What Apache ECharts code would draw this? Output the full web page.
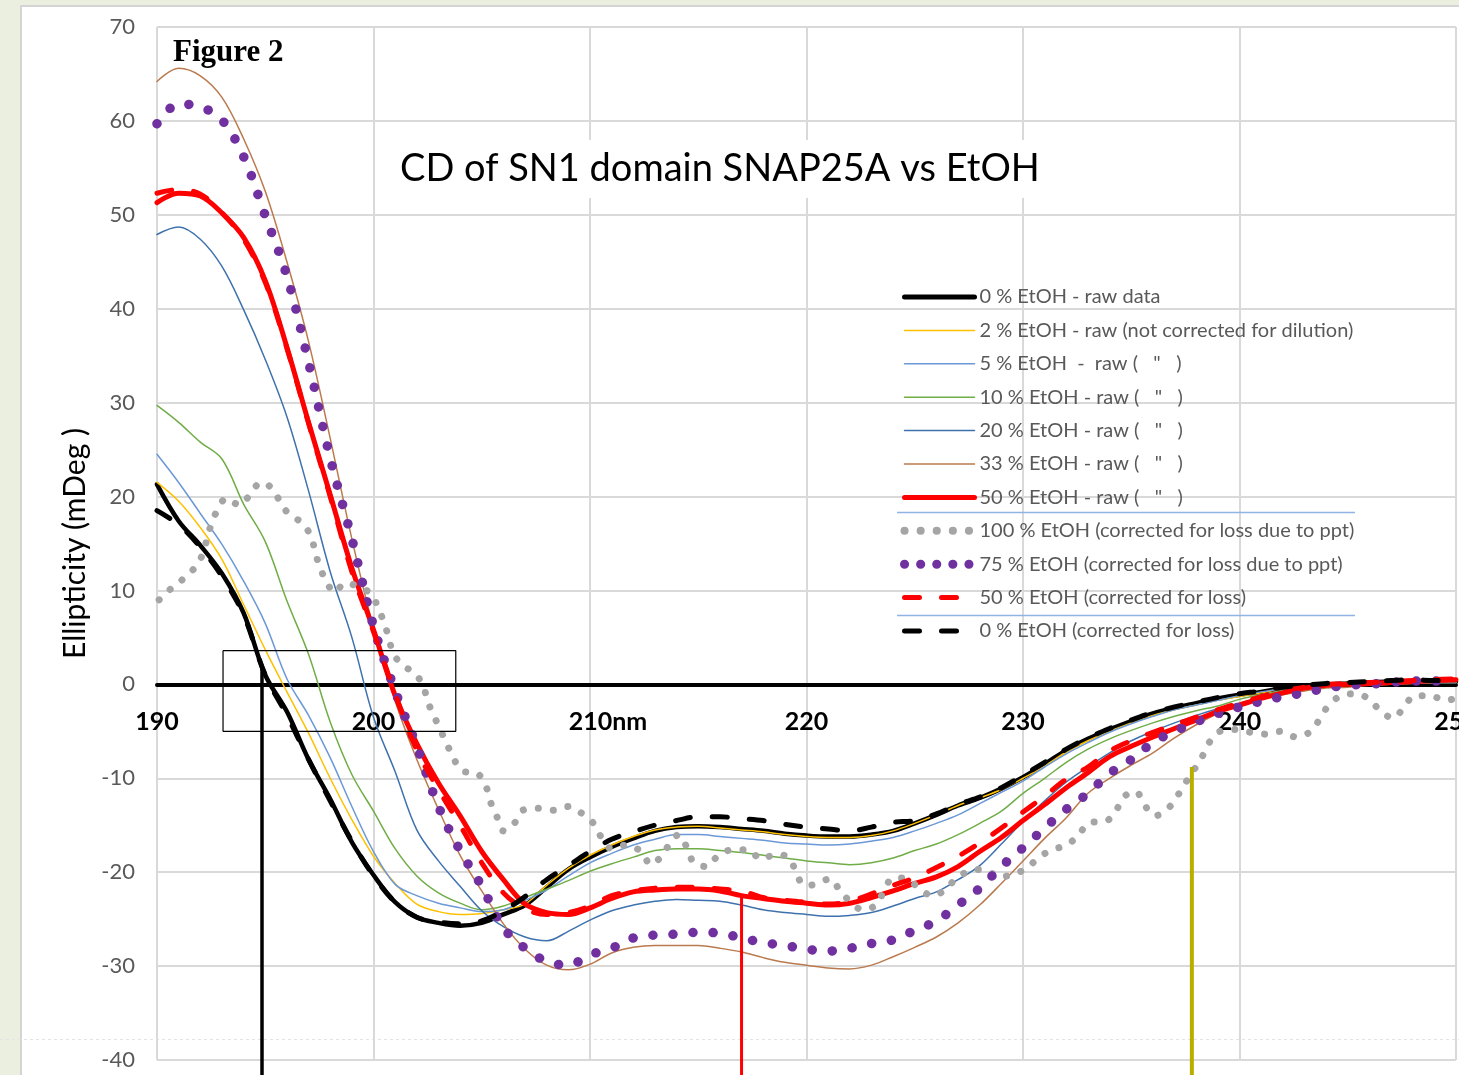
<!DOCTYPE html>
<html>
<head>
<meta charset="utf-8">
<title>CD of SN1 domain SNAP25A vs EtOH</title>
<script src="https://cdn.jsdelivr.net/npm/echarts@6/dist/echarts.min.js"></script>
<style>
  html, body { margin: 0; padding: 0; background: #fff; }
  #chart { width: 1459px; height: 1075px; }
</style>
</head>
<body>
<div id="chart"></div>
<script>
// wavelength in nm, one reading per nm
var wavelength = [190, 191, 192, 193, 194, 195, 196, 197, 198, 199,
  200, 201, 202, 203, 204, 205, 206, 207, 208, 209,
  210, 211, 212, 213, 214, 215, 216, 217, 218, 219,
  220, 221, 222, 223, 224, 225, 226, 227, 228, 229,
  230, 231, 232, 233, 234, 235, 236, 237, 238, 239,
  240, 241, 242, 243, 244, 245, 246, 247, 248, 249, 250];

// ellipticity (mDeg)
var etoh0Raw = [21.3, 17.4, 14.8, 11.8, 7.6, 1.0, -2.9, -8.0, -12.2, -16.8,
  -20.3, -23.2, -24.8, -25.4, -25.7, -25.4, -24.5, -23.5, -21.6, -19.7,
  -18.4, -17.3, -16.4, -15.6, -15.2, -15.1, -15.2, -15.4, -15.6, -15.9,
  -16.1, -16.2, -16.2, -16.0, -15.6, -14.8, -13.9, -12.9, -12.1, -11.1,
  -9.9, -8.5, -7.0, -5.8, -4.8, -3.9, -3.1, -2.5, -2.0, -1.5,
  -1.1, -0.8, -0.4, -0.2, 0.0, 0.1, 0.2, 0.3, 0.3, 0.3, 0.3];
var etoh2Raw = [21.5, 19.5, 16.7, 13.3, 8.5, 3.7, -0.8, -5.2, -10.0, -14.4,
  -18.3, -21.2, -23.4, -24.2, -24.5, -24.4, -24.0, -23.4, -21.4, -19.6,
  -18.2, -17.1, -16.2, -15.5, -15.2, -15.1, -15.3, -15.5, -15.7, -16.0,
  -16.2, -16.3, -16.3, -16.1, -15.6, -14.8, -13.9, -12.9, -12.1, -11.2,
  -10.0, -8.7, -7.2, -6.0, -5.0, -4.1, -3.3, -2.7, -2.2, -1.7,
  -1.3, -0.9, -0.5, -0.3, -0.1, 0.0, 0.1, 0.2, 0.2, 0.2, 0.2];
var etoh5Raw = [24.5, 21.5, 18.2, 14.9, 11.0, 6.5, 0.6, -3.3, -7.8, -13.0,
  -17.8, -21.3, -22.5, -23.3, -23.8, -24.2, -24.0, -23.0, -21.9, -20.4,
  -19.0, -18.0, -17.1, -16.5, -16.0, -16.0, -16.2, -16.4, -16.6, -16.9,
  -17.0, -17.1, -17.0, -16.7, -16.3, -15.6, -14.8, -13.9, -12.7, -11.5,
  -10.3, -8.8, -7.4, -6.2, -5.1, -4.2, -3.4, -2.7, -2.2, -1.7,
  -1.2, -0.8, -0.5, -0.3, -0.1, 0.0, 0.1, 0.1, 0.2, 0.2, 0.2];
var etoh10Raw = [29.7, 27.9, 25.8, 24.0, 19.2, 15.2, 8.9, 3.2, -4.0, -9.6,
  -13.5, -17.5, -20.4, -22.2, -23.3, -24.0, -23.6, -22.7, -21.8, -20.9,
  -19.9, -19.1, -18.4, -17.7, -17.5, -17.5, -17.7, -17.9, -18.2, -18.5,
  -18.8, -19.0, -19.2, -19.0, -18.5, -17.7, -17.0, -16.0, -14.8, -13.5,
  -11.6, -10.0, -8.3, -6.9, -5.8, -4.9, -4.1, -3.4, -2.8, -2.3,
  -1.6, -1.1, -0.7, -0.4, -0.2, 0.0, 0.1, 0.1, 0.2, 0.2, 0.2];
var etoh20Raw = [47.9, 48.7, 47.4, 44.5, 39.9, 34.6, 28.5, 20.6, 12.0, 5.0,
  -3.5, -9.3, -15.5, -18.8, -21.5, -24.1, -25.8, -26.9, -27.3, -26.3,
  -25.1, -24.1, -23.5, -23.1, -22.9, -23.0, -23.1, -23.5, -24.0, -24.3,
  -24.5, -24.7, -24.6, -24.3, -23.6, -22.8, -22.1, -20.8, -19.3, -17.0,
  -14.6, -12.4, -10.4, -8.8, -7.3, -6.0, -5.0, -4.1, -3.3, -2.6,
  -2.0, -1.4, -0.9, -0.5, -0.2, 0.0, 0.1, 0.1, 0.2, 0.2, 0.2];
var etoh33Raw = [64.2, 65.6, 64.8, 62.5, 58.1, 52.5, 45.0, 36.5, 26.2, 15.5,
  6.0, -1.8, -8.0, -13.3, -18.2, -22.0, -25.5, -28.2, -29.9, -30.4,
  -29.8, -28.6, -28.0, -27.8, -27.8, -27.8, -28.1, -28.5, -29.1, -29.6,
  -29.9, -30.2, -30.3, -29.9, -29.0, -28.0, -26.9, -25.4, -23.5, -21.2,
  -18.8, -16.4, -14.2, -11.6, -10.0, -8.6, -7.3, -5.7, -4.3, -3.1,
  -2.2, -1.6, -1.1, -0.7, -0.4, -0.3, -0.1, 0.0, 0.1, 0.2, 0.3];
var etoh50Raw = [51.3, 52.3, 52.0, 50.2, 47.6, 43.0, 35.9, 27.9, 20.2, 12.4,
  5.8, -1.2, -6.3, -10.5, -14.0, -17.8, -20.8, -23.4, -24.3, -24.5,
  -23.8, -22.8, -22.1, -21.9, -21.8, -21.8, -22.0, -22.5, -22.8, -23.1,
  -23.3, -23.5, -23.3, -22.7, -22.0, -21.2, -20.5, -19.4, -17.8, -16.3,
  -14.5, -12.8, -11.0, -9.4, -7.7, -6.6, -5.6, -4.7, -3.8, -2.9,
  -2.2, -1.5, -0.9, -0.4, -0.1, 0.0, 0.1, 0.2, 0.3, 0.4, 0.5];
var etoh75Corr = [59.7, 61.8, 61.5, 60.1, 56.2, 49.9, 43.5, 34.3, 24.1, 15.5,
  6.2, -0.7, -6.6, -13.0, -17.7, -21.5, -25.9, -28.1, -29.5, -29.9,
  -28.8, -28.1, -27.0, -26.7, -26.6, -26.4, -26.5, -27.0, -27.5, -27.8,
  -28.2, -28.4, -28.1, -27.6, -27.2, -26.2, -25.2, -23.5, -21.7, -19.4,
  -17.4, -15.3, -13.3, -11.6, -9.5, -8.0, -6.2, -5.0, -4.0, -3.1,
  -2.4, -1.8, -1.3, -0.9, -0.4, -0.1, 0.0, 0.2, 0.35, 0.35, 0.4];
var etoh50Corr = [52.3, 52.7, 52.2, 50.2, 47.4, 42.8, 35.8, 27.8, 20.0, 12.0,
  5.6, -1.0, -7.0, -11.2, -15.0, -19.0, -22.2, -23.9, -24.5, -24.3,
  -23.6, -22.5, -22.0, -21.7, -21.6, -21.6, -21.8, -22.0, -22.7, -23.0,
  -23.2, -23.4, -23.1, -22.3, -21.4, -20.6, -19.5, -18.3, -16.9, -15.3,
  -13.6, -11.9, -10.1, -8.8, -7.1, -6.0, -5.1, -4.3, -3.5, -2.7,
  -2.0, -1.3, -0.7, -0.3, 0.0, 0.1, 0.2, 0.3, 0.4, 0.5, 0.6];
var etoh0Corr = [18.5, 17.0, 14.6, 11.5, 7.4, 1.0, -3.3, -8.0, -12.4, -16.7,
  -20.4, -23.2, -24.8, -25.3, -25.5, -25.2, -24.1, -22.6, -20.8, -19.3,
  -17.8, -16.5, -15.7, -15.0, -14.5, -14.1, -14.1, -14.3, -14.5, -14.9,
  -15.2, -15.4, -15.6, -15.2, -14.7, -14.5, -13.8, -12.8, -12.0, -11.0,
  -9.7, -8.3, -6.9, -5.7, -4.7, -3.8, -3.0, -2.4, -1.9, -1.4,
  -1.0, -0.7, -0.3, -0.1, 0.1, 0.2, 0.3, 0.4, 0.5, 0.4, 0.4];

// 100 % EtOH is noisy, so it keeps its own wavelengths
var etoh100Wl = [190.1, 190.6, 191.2, 191.7, 192.1, 192.3, 192.5, 192.8, 193.2, 193.8,
  194.3, 194.8, 195.3, 195.7, 196.1, 196.7, 197.1, 197.3, 197.5, 197.8,
  198.2, 198.7, 199.3, 199.9, 200.2, 200.5, 200.7, 200.9, 201.3, 201.9,
  202.3, 202.5, 202.8, 203.1, 203.4, 203.7, 204.1, 204.8, 205.2, 205.4,
  205.7, 206.0, 206.5, 206.9, 207.6, 208.3, 209.0, 209.6, 210.2, 210.5,
  211.0, 211.7, 212.4, 212.8, 213.3, 213.7, 214.1, 214.5, 214.8, 215.4,
  215.9, 216.6, 217.3, 217.9, 218.6, 219.2, 219.5, 219.9, 220.4, 221.1,
  221.5, 222.0, 222.6, 223.2, 223.6, 224.0, 224.6, 225.2, 225.8, 226.4,
  226.9, 227.5, 228.2, 228.9, 229.6, 230.2, 230.8, 231.4, 232.1, 232.6,
  233.1, 233.8, 234.3, 234.7, 235.2, 235.6, 236.1, 236.7, 237.1, 237.5,
  237.9, 238.3, 238.6, 239.1, 239.8, 240.5, 241.2, 241.9, 242.6, 243.3,
  243.7, 244.1, 244.7, 245.4, 246.0, 246.5, 247.1, 247.6, 248.1, 248.8,
  249.5, 250.0];
var etoh100Corr = [9.0, 10.1, 11.2, 12.3, 13.8, 15.4, 17.0, 18.6, 19.8, 19.1,
  20.2, 21.5, 20.9, 19.4, 18.1, 17.2, 15.8, 14.2, 12.6, 11.1,
  9.8, 10.8, 10.4, 9.6, 8.2, 6.5, 5.0, 3.4, 2.1, 1.2,
  -0.2, -1.8, -3.4, -4.9, -6.4, -7.9, -9.2, -9.5, -10.9, -12.5,
  -14.1, -15.6, -14.8, -13.4, -13.2, -13.4, -13.0, -13.7, -14.9, -16.2,
  -17.5, -17.1, -17.9, -19.2, -18.3, -16.9, -16.0, -17.5, -19.0, -19.4,
  -18.3, -17.6, -17.6, -18.6, -18.1, -18.5, -19.9, -21.4, -21.3, -20.7,
  -21.8, -23.1, -24.0, -23.5, -21.9, -20.6, -20.7, -21.7, -22.5, -21.9,
  -20.7, -19.9, -19.7, -20.5, -20.2, -19.5, -18.3, -17.6, -17.0, -15.9,
  -14.7, -14.6, -13.4, -11.9, -11.4, -12.8, -14.0, -13.2, -12.0, -10.5,
  -9.1, -7.6, -6.2, -5.0, -4.8, -5.1, -5.3, -5.0, -5.6, -5.0,
  -3.7, -2.3, -1.2, -1.0, -1.6, -2.8, -3.6, -2.4, -1.2, -1.2,
  -1.7, -1.5];

// hand-drawn markers on the original: drop lines and the zoom box
var dropLineBlack = [[194.85, 2.0], [194.85, -42]];
var dropLineRed = [[217.0, -22.6], [217.0, -42]];
var dropLineOlive = [[237.8, -8.8], [237.8, -42]];
var zoomBox = [[193.05, 3.6], [203.8, 3.6], [203.8, -5.0], [193.05, -5.0], [193.05, 3.6]];

var xTicks = { min: 190, max: 250, step: 10 };
var yTicks = { min: -40, max: 70, step: 10 };

var FONT = 'Lato, "Open Sans", sans-serif';

function pairUp(xs, ys) {
  return xs.map(function (x, i) { return [x, ys[i]]; });
}

function spectrum(name, xs, ys, color, width, dash, legendLine) {
  return {
    name: name,
    type: 'line',
    data: pairUp(xs, ys),
    symbol: 'none',
    showSymbol: false,
    smooth: 0.35,
    lineStyle: { color: color, width: width, type: dash || 'solid', cap: 'round', join: 'round' },
    itemStyle: { color: color },
    emphasis: { disabled: true },
    legendLine: legendLine
  };
}

function marker(data, color, width) {
  return {
    type: 'line',
    data: data,
    symbol: 'none',
    clip: false,
    silent: true,
    lineStyle: { color: color, width: width },
    emphasis: { disabled: true },
    z: 3
  };
}

var dash = [15, 22];

var spectra = [
  spectrum('0 % EtOH - raw data', wavelength, etoh0Raw, '#000000', 4.5, null, { width: 5 }),
  spectrum('2 % EtOH - raw (not corrected for dilution)', wavelength, etoh2Raw, '#ffc000', 1.5, null, { width: 1.5 }),
  spectrum('5 % EtOH  -  raw (   "   )', wavelength, etoh5Raw, '#6b98d6', 1.5, null, { width: 1.5 }),
  spectrum('10 % EtOH - raw (   "   )', wavelength, etoh10Raw, '#70ad47', 1.5, null, { width: 1.5 }),
  spectrum('20 % EtOH - raw (   "   )', wavelength, etoh20Raw, '#3f72ad', 1.5, null, { width: 1.5 }),
  spectrum('33 % EtOH - raw (   "   )', wavelength, etoh33Raw, '#bb7a4e', 1.5, null, { width: 1.5 }),
  spectrum('50 % EtOH - raw (   "   )', wavelength, etoh50Raw, '#ff0000', 5, null, { width: 5 }),
  spectrum('100 % EtOH (corrected for loss due to ppt)', etoh100Wl, etoh100Corr, '#a5a5a5', 7, [0.1, 15], { width: 8, type: [0.1, 16], cap: 'round' }),
  spectrum('75 % EtOH (corrected for loss due to ppt)', wavelength, etoh75Corr, '#7030a0', 9.5, [0.1, 20], { width: 9, type: [0.1, 16], cap: 'round' }),
  spectrum('50 % EtOH (corrected for loss)', wavelength, etoh50Corr, '#ff0000', 5, dash, { width: 5, type: [15, 22], cap: 'round' }),
  spectrum('0 % EtOH (corrected for loss)', wavelength, etoh0Corr, '#000000', 5, dash, { width: 5, type: [15, 22], cap: 'round' })
];

var legendData = spectra.map(function (s) {
  var ls = s.legendLine;
  delete s.legendLine;
  return { name: s.name, lineStyle: ls, itemStyle: { opacity: 0 } };
});

var series = spectra.concat([
  marker(zoomBox, '#000000', 1.2),
  marker(dropLineBlack, '#000000', 3.5),
  marker(dropLineRed, '#ff0000', 3),
  marker(dropLineOlive, '#b9ad00', 4)
]);

var chart = echarts.init(document.getElementById('chart'), null, { renderer: 'canvas' });

chart.setOption({
  animation: false,
  backgroundColor: '#ffffff',
  textStyle: { fontFamily: FONT },
  title: [{
    text: 'Figure 2',
    left: 168,
    top: 32,
    textStyle: { fontFamily: '"Liberation Serif", "DejaVu Serif", serif', fontWeight: 'bold', fontSize: 31, color: '#000' }
  }, {
    text: 'CD of SN1 domain SNAP25A vs EtOH',
    left: 388,
    top: 140,
    padding: [10, 12, 10, 12],
    backgroundColor: '#ffffff',
    textStyle: { fontFamily: FONT, fontWeight: 'normal', fontSize: 38, color: '#000' }
  }],
  legend: {
    data: legendData,
    orient: 'vertical',
    left: 900,
    top: 287,
    padding: 0,
    itemWidth: 70,
    itemHeight: 14,
    itemGap: 13.4,
    selectedMode: false,
    itemStyle: { opacity: 0 },
    textStyle: { fontFamily: FONT, fontSize: 20, color: '#595959', lineHeight: 20 }
  },
  // grid 0 is the plot box; grid 1 ends on the zero line and only carries the x labels
  grid: [
    { left: 157, right: 3, top: 27, bottom: 15, outerBoundsMode: 'none', containLabel: false },
    { left: 157, right: 3, top: 27, bottom: 390, outerBoundsMode: 'none', containLabel: false }
  ],
  xAxis: [{
    type: 'value',
    gridIndex: 0,
    min: xTicks.min,
    max: xTicks.max,
    interval: xTicks.step,
    axisLine: { show: false },
    axisTick: { show: false },
    axisLabel: { show: false },
    splitLine: { show: true, lineStyle: { color: '#d9d9d9', width: 2 } }
  }, {
    type: 'value',
    gridIndex: 1,
    position: 'bottom',
    min: xTicks.min,
    max: xTicks.max,
    interval: xTicks.step,
    axisLine: { show: true, onZero: false, lineStyle: { color: '#000', width: 4 } },
    axisTick: { show: false },
    splitLine: { show: false },
    axisLabel: {
      margin: 24,
      fontFamily: FONT,
      fontSize: 25,
      fontWeight: 'bold',
      color: '#000',
      formatter: function (v) {
        return v === 210 ? '{pad|}210nm' : String(v);
      },
      rich: { pad: { width: 36 } }
    }
  }],
  yAxis: [{
    type: 'value',
    gridIndex: 0,
    min: yTicks.min,
    max: yTicks.max,
    interval: yTicks.step,
    axisLine: { show: false },
    axisTick: { show: false },
    splitLine: { show: true, lineStyle: { color: '#d9d9d9', width: 2 } },
    axisLabel: { margin: 22, fontFamily: FONT, fontSize: 22, color: '#595959' },
    name: 'Ellipticity (mDeg )',
    nameLocation: 'middle',
    nameRotate: 90,
    nameGap: 66,
    nameTextStyle: { fontFamily: FONT, fontSize: 30, color: '#000' }
  }, {
    type: 'value',
    gridIndex: 1,
    min: 0,
    max: yTicks.max,
    show: false
  }],
  graphic: [
    { type: 'rect', left: 0, top: 0, z: -10, shape: { width: 20, height: 1075 }, style: { fill: '#ebefe0' } },
    { type: 'rect', left: 0, top: 0, z: -10, shape: { width: 1459, height: 5 }, style: { fill: '#ebefe0' } },
    { type: 'line', z: -9, shape: { x1: 21, y1: 5, x2: 21, y2: 1075 }, style: { stroke: '#d4d4d4', lineWidth: 2 } },
    { type: 'line', z: -9, shape: { x1: 20, y1: 6, x2: 1459, y2: 6 }, style: { stroke: '#d4d4d4', lineWidth: 2 } },
    { type: 'line', z: -9, shape: { x1: 0, y1: 1039.5, x2: 1459, y2: 1039.5 }, style: { stroke: '#e4e4e4', lineWidth: 1, lineDash: [3, 3] } },
    { type: 'line', z: 10, shape: { x1: 897, y1: 512.5, x2: 1355, y2: 512.5 }, style: { stroke: '#8fb4e3', lineWidth: 1.5 } },
    { type: 'line', z: 10, shape: { x1: 897, y1: 615.5, x2: 1355, y2: 615.5 }, style: { stroke: '#8fb4e3', lineWidth: 1.5 } }
  ],
  series: series
});
</script>
</body>
</html>
